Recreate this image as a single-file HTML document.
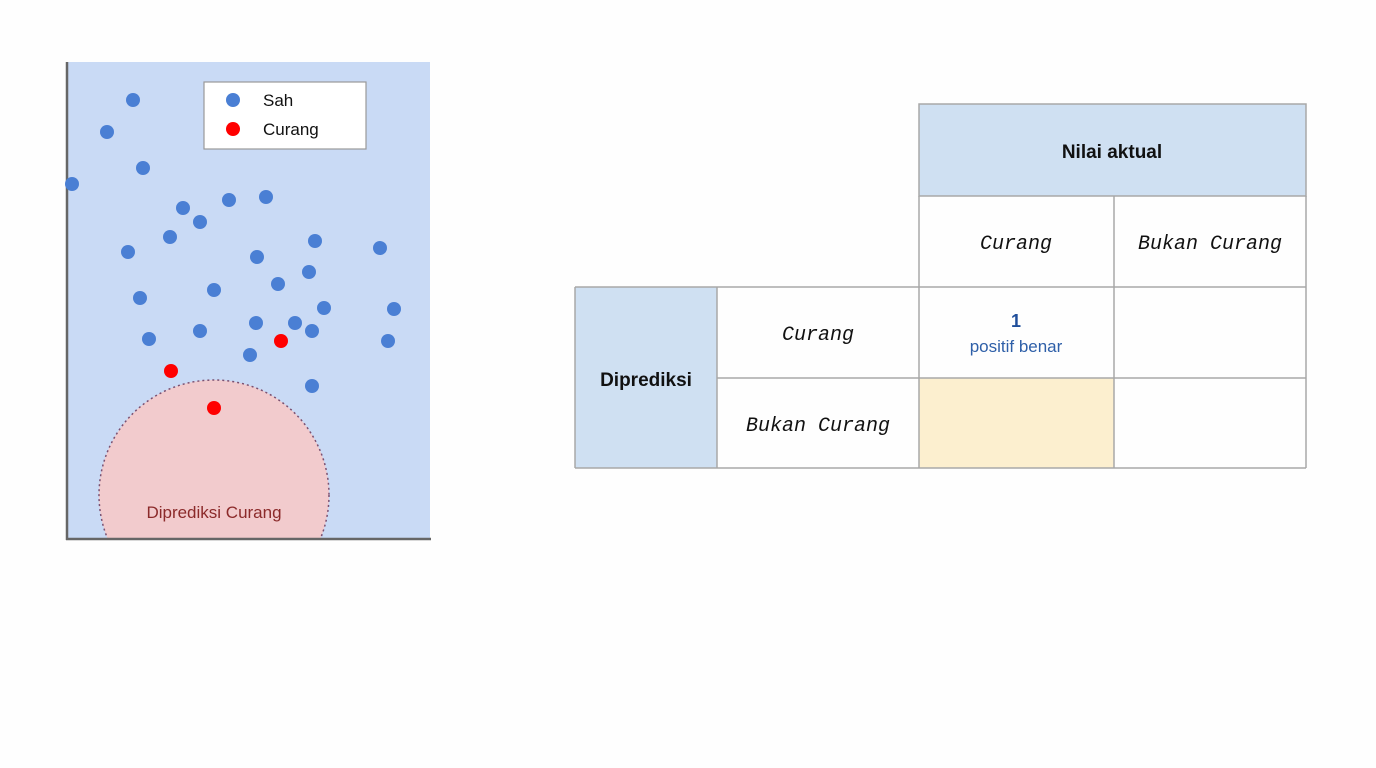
<!DOCTYPE html>
<html><head><meta charset="utf-8"><style>
html,body{margin:0;padding:0;background:#fefefe;}
svg{display:block}
</style></head><body>
<svg width="1376" height="768" xmlns="http://www.w3.org/2000/svg">
<rect x="0" y="0" width="1376" height="768" fill="#fefefe"/>
<defs><clipPath id="c"><rect x="67" y="62" width="363" height="477"/></clipPath></defs>
<rect x="67" y="62" width="363" height="477" fill="#c9daf5"/>
<g clip-path="url(#c)">
<circle cx="214" cy="495" r="115" fill="#f2cbcd" stroke="#7a5070" stroke-width="1.5" stroke-dasharray="2,3"/>
</g>
<text x="214" y="518" text-anchor="middle" font-family="Liberation Sans, sans-serif" font-size="17" fill="#8b2a2a">Diprediksi Curang</text>
<line x1="67" y1="62" x2="67" y2="540" stroke="#666" stroke-width="2.5"/>
<line x1="66" y1="539" x2="431" y2="539" stroke="#666" stroke-width="2.5"/>
<g fill="#4a7fd4">
<circle cx="133" cy="100" r="7"/><circle cx="107" cy="132" r="7"/><circle cx="143" cy="168" r="7"/><circle cx="72" cy="184" r="7"/>
<circle cx="183" cy="208" r="7"/><circle cx="229" cy="200" r="7"/><circle cx="266" cy="197" r="7"/><circle cx="200" cy="222" r="7"/>
<circle cx="170" cy="237" r="7"/><circle cx="128" cy="252" r="7"/><circle cx="315" cy="241" r="7"/><circle cx="257" cy="257" r="7"/>
<circle cx="380" cy="248" r="7"/><circle cx="309" cy="272" r="7"/><circle cx="278" cy="284" r="7"/><circle cx="214" cy="290" r="7"/>
<circle cx="140" cy="298" r="7"/><circle cx="324" cy="308" r="7"/><circle cx="394" cy="309" r="7"/><circle cx="256" cy="323" r="7"/>
<circle cx="295" cy="323" r="7"/><circle cx="312" cy="331" r="7"/><circle cx="200" cy="331" r="7"/><circle cx="149" cy="339" r="7"/>
<circle cx="388" cy="341" r="7"/><circle cx="250" cy="355" r="7"/><circle cx="312" cy="386" r="7"/>
</g>
<g fill="#f00">
<circle cx="281" cy="341" r="7"/><circle cx="171" cy="371" r="7"/><circle cx="214" cy="408" r="7"/>
</g>
<rect x="204" y="82" width="162" height="67" fill="#fff" stroke="#999" stroke-width="1.2"/>
<circle cx="233" cy="100" r="7" fill="#4a7fd4"/>
<circle cx="233" cy="129" r="7" fill="#f00"/>
<g font-family="Liberation Sans, sans-serif" font-size="17" fill="#111">
<text x="263" y="106">Sah</text><text x="263" y="135">Curang</text>
</g>
<!-- table -->
<rect x="919" y="104" width="387" height="92" fill="#cfe0f2"/>
<rect x="575" y="287" width="142" height="181" fill="#cfe0f2"/>
<rect x="919" y="378" width="195" height="90" fill="#fcefcf"/>
<g stroke="#a8a8a8" stroke-width="1.5" fill="none">
<rect x="919" y="104" width="387" height="92"/>
<line x1="919" y1="196" x2="919" y2="468"/>
<line x1="1114" y1="196" x2="1114" y2="468"/>
<line x1="1306" y1="196" x2="1306" y2="468"/>
<line x1="919" y1="287" x2="1306" y2="287"/>
<line x1="575" y1="287" x2="919" y2="287"/>
<line x1="575" y1="287" x2="575" y2="468"/>
<line x1="717" y1="287" x2="717" y2="468"/>
<line x1="717" y1="378" x2="1306" y2="378"/>
<line x1="575" y1="468" x2="1306" y2="468"/>
</g>
<g font-family="Liberation Sans, sans-serif" font-weight="bold" font-size="19" fill="#111" text-anchor="middle">
<text x="1112" y="158">Nilai aktual</text>
<text x="646" y="386">Diprediksi</text>
</g>
<g font-family="Liberation Mono, monospace" font-style="italic" font-size="20" fill="#111" text-anchor="middle">
<text x="1016" y="249">Curang</text>
<text x="1210" y="249">Bukan Curang</text>
<text x="818" y="340">Curang</text>
<text x="818" y="431">Bukan Curang</text>
</g>
<text x="1016" y="327" text-anchor="middle" font-family="Liberation Sans, sans-serif" font-weight="bold" font-size="18" fill="#1f4e9a">1</text>
<text x="1016" y="352" text-anchor="middle" font-family="Liberation Sans, sans-serif" font-size="17" fill="#2e5fa8">positif benar</text>
</svg>
</body></html>
